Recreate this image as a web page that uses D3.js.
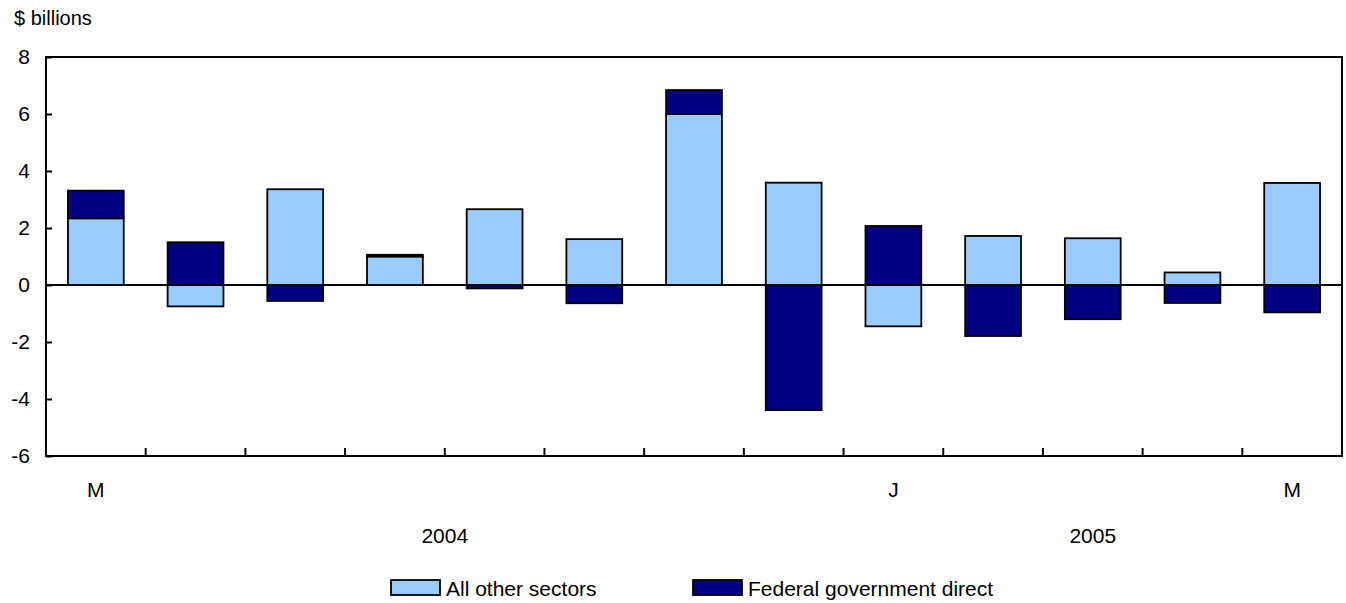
<!DOCTYPE html>
<html>
<head>
<meta charset="utf-8">
<script src="https://cdn.jsdelivr.net/npm/d3@7"></script>
<style>
  body { margin: 0; background: #fff; }
  text { font-family: "Liberation Sans", Arial, Helvetica, sans-serif; fill: #000; }
</style>
</head>
<body>
<svg id="chart" width="1346" height="603"></svg>
<script>
// monthly values, $ billions
const months = ["2004-05", "2004-06", "2004-07", "2004-08", "2004-09", "2004-10", "2004-11",
                "2004-12", "2005-01", "2005-02", "2005-03", "2005-04", "2005-05"];
const monthLabels = ["M", "", "", "", "", "", "", "", "J", "", "", "", "M"];
const otherSectors = [2.34, -0.75, 3.36, 1.0, 2.66, 1.61, 6.0, 3.59, -1.45, 1.72, 1.64, 0.44, 3.58];
const federalDirect = [0.97, 1.5, -0.56, 0.06, -0.12, -0.64, 0.84, -4.39, 2.07, -1.79, -1.2, -0.63, -0.96];
const yearLabels = ["2004", "2005"];
const yearFirst = ["2004-05", "2005-01"];
const yearLast = ["2004-12", "2005-05"];
const yTicks = [-6, -4, -2, 0, 2, 4, 6, 8];
const seriesNames = ["All other sectors", "Federal government direct"];
const seriesColors = ["#99ccff", "#000080"];

const svg = d3.select("#chart");
const plotLeft = 46, plotRight = 1342, plotTop = 57, plotBottom = 456;

const x = d3.scaleBand()
    .domain(months)
    .range([plotLeft, plotRight])
    .paddingInner(0.44)
    .paddingOuter(0.22);

const y = d3.scaleLinear()
    .domain([-6, 8])
    .range([plotBottom, plotTop]);

// table for the stack layout
const rows = months.map((m, i) => ({ month: m, other: otherSectors[i], federal: federalDirect[i] }));
const stacked = d3.stack()
    .keys(["other", "federal"])
    .offset(d3.stackOffsetDiverging)(rows);

// bars
svg.append("g")
  .selectAll("g")
  .data(stacked)
  .join("g")
    .attr("fill", (d, i) => seriesColors[i])
  .selectAll("rect")
  .data(d => d)
  .join("rect")
    .attr("x", d => x(d.data.month))
    .attr("y", d => y(Math.max(d[0], d[1])))
    .attr("width", x.bandwidth())
    .attr("height", d => Math.abs(y(d[0]) - y(d[1])))
    .attr("stroke", "#000")
    .attr("stroke-width", 1.8);

// zero line
svg.append("line")
    .attr("x1", plotLeft).attr("x2", plotRight)
    .attr("y1", y(0)).attr("y2", y(0))
    .attr("stroke", "#000")
    .attr("stroke-width", 2);

// y axis, ticks pointing in, plain hyphen for negatives
const yAxis = svg.append("g")
    .attr("transform", `translate(${plotLeft},0)`)
    .call(d3.axisLeft(y).tickValues(yTicks).tickSize(-6).tickPadding(16).tickFormat(d => String(d)));
yAxis.select(".domain").remove();
yAxis.selectAll("line").attr("stroke-width", 2);
yAxis.selectAll("text").attr("font-size", 21).attr("font-family", null);

// x axis month labels
const xAxis = svg.append("g")
    .attr("transform", `translate(0,${plotBottom})`)
    .call(d3.axisBottom(x).tickSize(0).tickPadding(26).tickFormat((d, i) => monthLabels[i]));
xAxis.select(".domain").remove();
xAxis.selectAll("text").attr("font-size", 21).attr("font-family", null);

// ticks between months
const halfGap = x.step() * x.paddingInner() / 2;
svg.append("g")
  .selectAll("line")
  .data(months.slice(1))
  .join("line")
    .attr("x1", d => x(d) - halfGap)
    .attr("x2", d => x(d) - halfGap)
    .attr("y1", plotBottom)
    .attr("y2", plotBottom - 8)
    .attr("stroke", "#000")
    .attr("stroke-width", 2);

// frame
svg.append("rect")
    .attr("x", plotLeft).attr("y", plotTop)
    .attr("width", plotRight - plotLeft).attr("height", plotBottom - plotTop)
    .attr("fill", "none")
    .attr("stroke", "#000")
    .attr("stroke-width", 2);

// year labels centred under their months
svg.append("g")
  .selectAll("text")
  .data(yearLabels)
  .join("text")
    .attr("x", (d, i) => (x(yearFirst[i]) - halfGap + x(yearLast[i]) + x.bandwidth() + halfGap) / 2)
    .attr("y", 543)
    .attr("text-anchor", "middle")
    .attr("font-size", 21)
    .text(d => d);

// unit label
svg.append("text")
    .attr("x", 14)
    .attr("y", 25)
    .attr("font-size", 20)
    .text("$ billions");

// legend
const legendX = [391, 693];
const legend = svg.append("g")
  .selectAll("g")
  .data(seriesNames)
  .join("g")
    .attr("transform", (d, i) => `translate(${legendX[i]},580)`);
legend.append("rect")
    .attr("width", 49)
    .attr("height", 15)
    .attr("fill", (d, i) => seriesColors[i])
    .attr("stroke", "#000")
    .attr("stroke-width", 1.8);
legend.append("text")
    .attr("x", 55)
    .attr("y", 16)
    .attr("font-size", 21)
    .text(d => d);
</script>
</body>
</html>
